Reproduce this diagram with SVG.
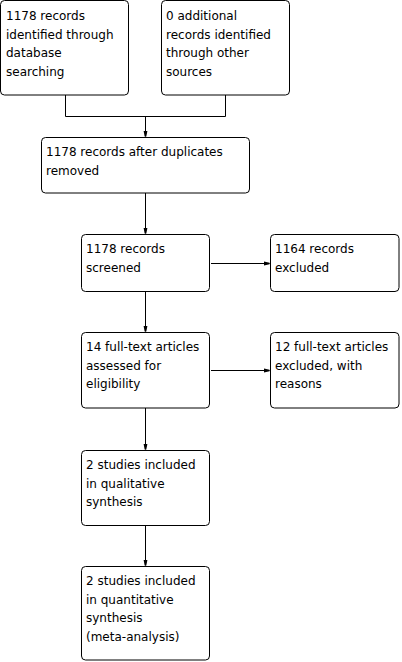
<svg xmlns="http://www.w3.org/2000/svg" width="402" height="662" viewBox="0 0 402 662">
<style>
.box{fill:#fff;stroke:#000;stroke-width:1}
.t{font-family:"DejaVu Sans",Verdana,sans-serif;font-size:12px;fill:#000}
.c{fill:none;stroke:#000;stroke-width:1}
</style>
<defs>
<marker id="ah" markerUnits="userSpaceOnUse" markerWidth="8" markerHeight="8" refX="6" refY="4" orient="auto">
<path d="M0,2 L6,3.2 L6,4.8 L0,6 Z" fill="#000"/>
</marker>
</defs>
<rect width="402" height="662" fill="#fff"/>
<g id="connectors">
<path class="c" d="M65.5,95 V116.5 H225.5 V95"/>
<path class="c" d="M145.5,116.5 V136.5" marker-end="url(#ah)"/>
<path class="c" d="M145.5,193 V233.5" marker-end="url(#ah)"/>
<path class="c" d="M211,263.5 H269.5" marker-end="url(#ah)"/>
<path class="c" d="M145.5,292 V331.5" marker-end="url(#ah)"/>
<path class="c" d="M211,370.5 H269.5" marker-end="url(#ah)"/>
<path class="c" d="M145.5,408 V449.5" marker-end="url(#ah)"/>
<path class="c" d="M145.5,526 V565.5" marker-end="url(#ah)"/>
</g>
<g id="n1">
<rect class="box" x="0.5" y="0.5" width="128" height="94.5" rx="4"/>
<text class="t" x="6" y="20">1178 records<tspan x="6" dy="18.7">identified through</tspan><tspan x="6" dy="18.7">database</tspan><tspan x="6" dy="18.7">searching</tspan></text>
</g>
<g id="n2">
<rect class="box" x="161.5" y="0.5" width="128" height="94.5" rx="4"/>
<text class="t" x="166" y="20">0 additional<tspan x="166" dy="18.7">records identified</tspan><tspan x="166" dy="18.7">through other</tspan><tspan x="166" dy="18.7">sources</tspan></text>
</g>
<g id="n3">
<rect class="box" x="41.5" y="137.5" width="208" height="55.5" rx="4"/>
<text class="t" x="46" y="156">1178 records after duplicates<tspan x="46" dy="18.7">removed</tspan></text>
</g>
<g id="n4">
<rect class="box" x="81.5" y="234.5" width="128" height="57" rx="4"/>
<text class="t" x="86" y="253">1178 records<tspan x="86" dy="18.7">screened</tspan></text>
</g>
<g id="n5">
<rect class="box" x="270.5" y="234.5" width="128.5" height="57" rx="4"/>
<text class="t" x="275" y="253">1164 records<tspan x="275" dy="18.7">excluded</tspan></text>
</g>
<g id="n6">
<rect class="box" x="81.5" y="332.5" width="128" height="75.5" rx="4"/>
<text class="t" x="86" y="351">14 full-text articles<tspan x="86" dy="18.7">assessed for</tspan><tspan x="86" dy="18.7">eligibility</tspan></text>
</g>
<g id="n7">
<rect class="box" x="270.5" y="332.5" width="128.5" height="75.5" rx="4"/>
<text class="t" x="275" y="351">12 full-text articles<tspan x="275" dy="18.7">excluded, with</tspan><tspan x="275" dy="18.7">reasons</tspan></text>
</g>
<g id="n8">
<rect class="box" x="81.5" y="450.5" width="128" height="75" rx="4"/>
<text class="t" x="86" y="469">2 studies included<tspan x="86" dy="18.7">in qualitative</tspan><tspan x="86" dy="18.7">synthesis</tspan></text>
</g>
<g id="n9">
<rect class="box" x="81.5" y="566.5" width="128" height="93.5" rx="4"/>
<text class="t" x="86" y="585">2 studies included<tspan x="86" dy="18.7">in quantitative</tspan><tspan x="86" dy="18.7">synthesis</tspan><tspan x="86" dy="18.7">(meta-analysis)</tspan></text>
</g>
</svg>
